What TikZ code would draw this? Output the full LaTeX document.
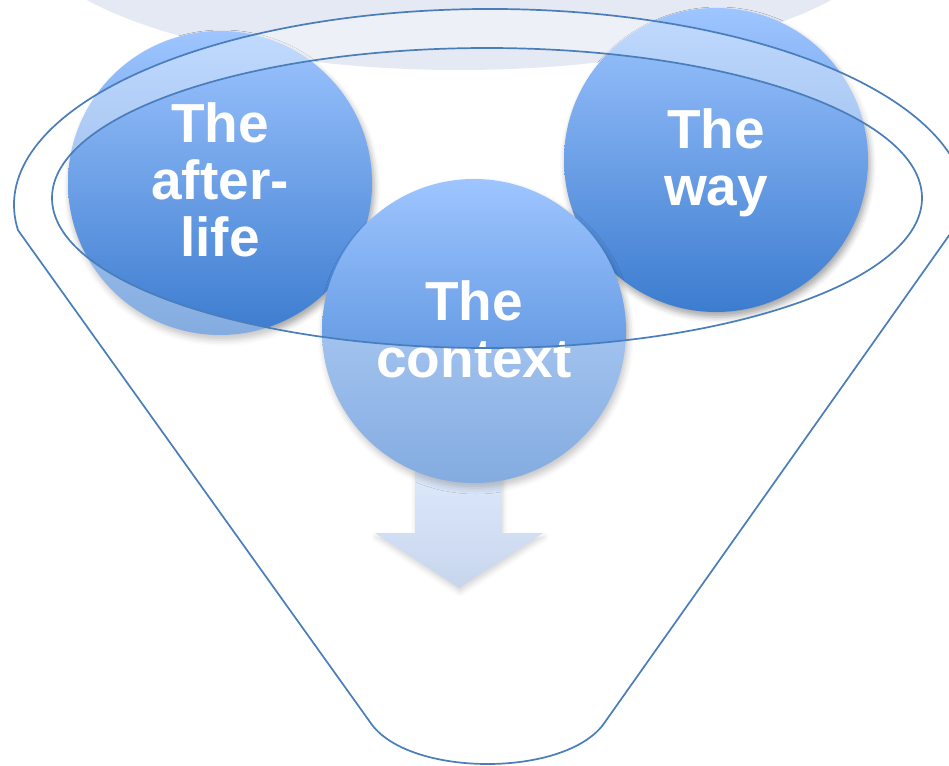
\documentclass[tikz,border=0pt]{standalone}
\usepackage{fontspec}
\setmainfont{Liberation Sans}
\usetikzlibrary{shadows.blur}

\definecolor{rimline}{HTML}{4A7EBB}
\definecolor{ballTop}{HTML}{9EC5FF}
\definecolor{ballBottom}{HTML}{3C7CCF}
\definecolor{arrowTop}{HTML}{C9DCFA}
\definecolor{arrowBottom}{HTML}{A8BEE3}
\definecolor{haze}{HTML}{E4E9F3}

\tikzset{
  bubble/.style={circle, minimum size=304pt, inner sep=0pt,
    top color=ballTop, bottom color=ballBottom, draw=none,
    blur shadow={shadow xshift=2pt, shadow yshift=-5pt,
      shadow blur radius=6pt, shadow opacity=35}},
  bubbletext/.style={text=white, align=center, inner sep=0pt,
    font=\bfseries\fontsize{55}{57}\selectfont},
  downarrow/.style={top color=arrowTop, bottom color=arrowBottom, draw=none,
    blur shadow={shadow xshift=1pt, shadow yshift=-4pt,
      shadow blur radius=5pt, shadow opacity=25}},
  veil/.style={fill=white, fill opacity=0.37, even odd rule},
  rim/.style={draw=rimline, line width=1.7pt, line join=round},
}

\begin{document}
\begin{tikzpicture}[x=1pt,y=-1pt]
  \useasboundingbox (0,0) rectangle (949,765);
  \clip (0,0) rectangle (949,765);

  % pale backdrop ellipse behind the funnel mouth
  \fill[haze] (459,-80) ellipse [x radius=440, y radius=150];

  % downward arrow out of the funnel
  \path[downarrow] (415,470) -- (502,470) -- (502,533) -- (543,533)
    -- (459,588) -- (375,533) -- (415,533) -- cycle;

  % the three ideas
  \node[bubble] (after) at (220,183) {};
  \node[bubble] (way) at (716,160) {};
  \node[bubble] (context) at (474,331) {};
  \node[bubbletext] (afterT) at ([yshift=3pt]after.center) {The\\after-\\life};
  \node[bubbletext] (wayT) at ([yshift=-3pt]way.center) {The\\way};
  \node[bubbletext] (contextT) at ([yshift=2pt]context.center) {The\\context};

  % translucent funnel body and rim, open at the mouth
  \path[veil]
    (370,722) -- (18.0,230.2)
      arc[start angle=172.6, end angle=362, x radius=476, y radius=196]
      -- (605,722) .. controls (568,778) and (407,778) .. (370,722) -- cycle
    (487,198) ellipse [x radius=435, y radius=150];

  % funnel outline
  \path[rim]
    (370,722) -- (18.0,230.2)
      arc[start angle=172.6, end angle=362, x radius=476, y radius=196]
      -- (605,722) .. controls (568,778) and (407,778) .. (370,722) -- cycle;
  \path[rim] (487,198) ellipse [x radius=435, y radius=150];
\end{tikzpicture}
\end{document}
